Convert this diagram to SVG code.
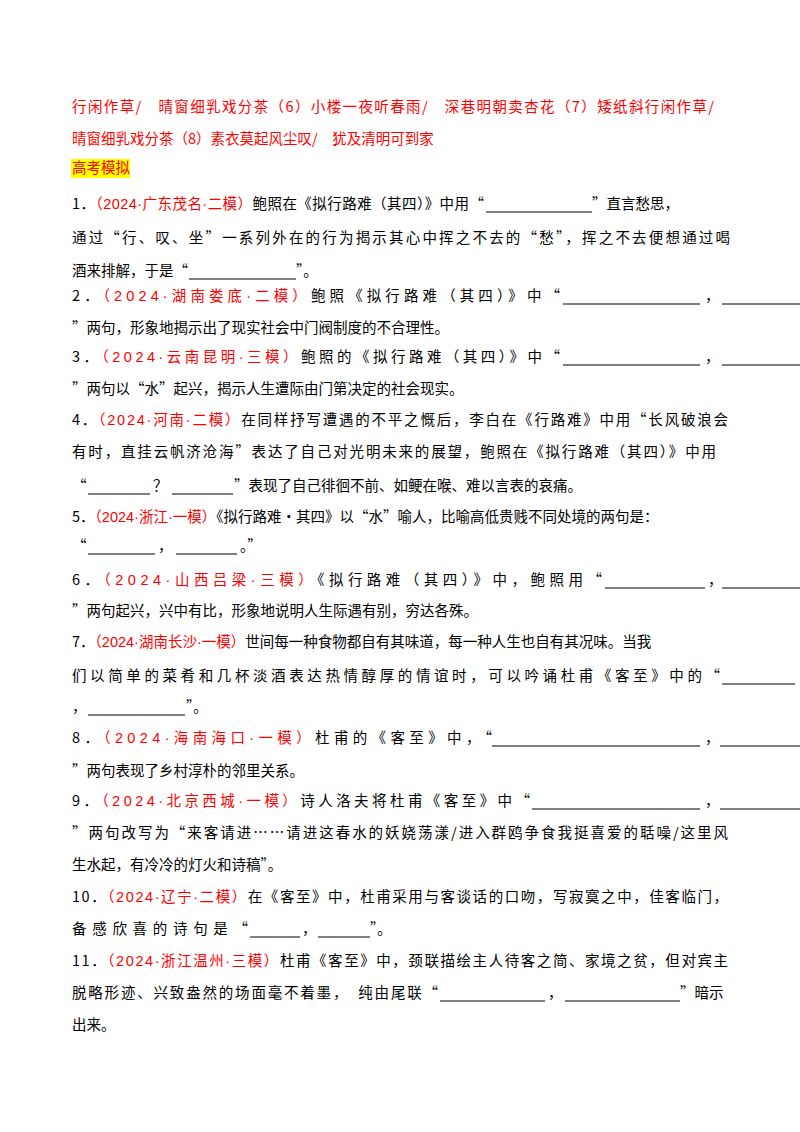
<svg xmlns="http://www.w3.org/2000/svg" width="800" height="1132" viewBox="0 0 800 1132">
<style>
text{font-family:"Noto Sans CJK SC","Liberation Sans",sans-serif;font-size:14.5px;fill:#000}
.r{fill:#ff0000}
tspan.r{font-family:"Liberation Sans","Noto Sans CJK SC",sans-serif}
line{stroke:#000;stroke-width:1}
</style>
<rect width="800" height="1132" fill="#fff"/>
<text x="72" y="112" class="r" textLength="642" lengthAdjust="spacing">行闲作草/　晴窗细乳戏分茶（6）小楼一夜听春雨/　深巷明朝卖杏花（7）矮纸斜行闲作草/</text>
<text x="72" y="144" class="r">晴窗细乳戏分茶（8）素衣莫起风尘叹/　犹及清明可到家</text>
<rect x="71" y="159" width="59" height="19" fill="#ffff00"/>
<text x="72" y="173" class="r">高考模拟</text>
<g id="q1">
<text x="72" y="209" textLength="412" lengthAdjust="spacing">1．<tspan class="r">（2024·广东茂名·二模）</tspan>鲍照在《拟行路难（其四）》中用“</text>
<line x1="486" y1="212" x2="592" y2="212"/>
<text x="592" y="209">”直言愁思，</text>
<text x="72" y="243" textLength="658" lengthAdjust="spacing">通过“行、叹、坐”一系列外在的行为揭示其心中挥之不去的“愁”，挥之不去便想通过喝</text>
<text x="72" y="276">酒来排解，于是“</text>
<line x1="189" y1="279" x2="296" y2="279"/>
<text x="296" y="276">”。</text>
</g>
<g id="q2">
<text x="72" y="301" textLength="488" lengthAdjust="spacing">2．<tspan class="r">（2024·湖南娄底·二模）</tspan>鲍照《拟行路难（其四）》中“</text>
<line x1="563" y1="304" x2="700" y2="304"/><text x="705" y="301">，</text><line x1="722" y1="304" x2="800" y2="304"/>
<text x="72" y="333">”两句，形象地揭示出了现实社会中门阀制度的不合理性。</text>
</g>
<g id="q3">
<text x="72" y="362" textLength="488" lengthAdjust="spacing">3．<tspan class="r">（2024·云南昆明·三模）</tspan>鲍照的《拟行路难（其四）》中“</text>
<line x1="563" y1="365" x2="700" y2="365"/><text x="705" y="362">，</text><line x1="722" y1="365" x2="800" y2="365"/>
<text x="72" y="394">”两句以“水”起兴，揭示人生遭际由门第决定的社会现实。</text>
</g>
<g id="q4">
<text x="72" y="425" textLength="656" lengthAdjust="spacing">4．<tspan class="r">（2024·河南·二模）</tspan>在同样抒写遭遇的不平之慨后，李白在《行路难》中用“长风破浪会</text>
<text x="72" y="457" textLength="644" lengthAdjust="spacing">有时，直挂云帆济沧海”表达了自己对光明未来的展望，鲍照在《拟行路难（其四）》中用</text>
<text x="72" y="491">“</text><line x1="88" y1="494" x2="150" y2="494"/><text x="153" y="491">？</text><line x1="172" y1="494" x2="233" y2="494"/>
<text x="234" y="491">”表现了自己徘徊不前、如鲠在喉、难以言表的哀痛。</text>
</g>
<g id="q5">
<text x="72" y="522">5．<tspan class="r">（2024·浙江·一模）</tspan>《拟行路难·其四》以“水”喻人，比喻高低贵贱不同处境的两句是：</text>
<text x="72" y="551">“</text><line x1="88" y1="554" x2="155" y2="554"/><text x="158" y="551">，</text><line x1="176" y1="554" x2="237" y2="554"/><text x="240" y="551">。”</text>
</g>
<g id="q6">
<text x="72" y="585" textLength="530" lengthAdjust="spacing">6．<tspan class="r">（2024·山西吕梁·三模）</tspan>《拟行路难（其四）》中，鲍照用“</text>
<line x1="605" y1="588" x2="705" y2="588"/><text x="708" y="585">，</text><line x1="722" y1="588" x2="800" y2="588"/>
<text x="72" y="616">”两句起兴，兴中有比，形象地说明人生际遇有别，穷达各殊。</text>
</g>
<g id="q7">
<text x="72" y="647">7．<tspan class="r">（2024·湖南长沙·一模）</tspan>世间每一种食物都自有其味道，每一种人生也自有其况味。当我</text>
<text x="72" y="681" textLength="648" lengthAdjust="spacing">们以简单的菜肴和几杯淡酒表达热情醇厚的情谊时，可以吟诵杜甫《客至》中的“</text>
<line x1="722" y1="684" x2="795" y2="684"/>
<text x="72" y="712">，</text><line x1="88" y1="715" x2="185" y2="715"/><text x="186" y="712">”。</text>
</g>
<g id="q8">
<text x="72" y="743" textLength="420" lengthAdjust="spacing">8．<tspan class="r">（2024·海南海口·一模）</tspan>杜甫的《客至》中，“</text>
<line x1="492" y1="746" x2="700" y2="746"/><text x="705" y="743">，</text><line x1="720" y1="746" x2="800" y2="746"/>
<text x="72" y="776">”两句表现了乡村淳朴的邻里关系。</text>
</g>
<g id="q9">
<text x="72" y="806" textLength="458" lengthAdjust="spacing">9．<tspan class="r">（2024·北京西城·一模）</tspan>诗人洛夫将杜甫《客至》中“</text>
<line x1="532" y1="809" x2="700" y2="809"/><text x="705" y="806">，</text><line x1="720" y1="809" x2="800" y2="809"/>
<text x="72" y="838" textLength="656" lengthAdjust="spacing">”两句改写为“来客请进……请进这春水的妖娆荡漾/进入群鸥争食我挺喜爱的聒噪/这里风</text>
<text x="72" y="870">生水起，有冷冷的灯火和诗稿”。</text>
</g>
<g id="q10">
<text x="72" y="902" textLength="656" lengthAdjust="spacing">10．<tspan class="r">（2024·辽宁·二模）</tspan>在《客至》中，杜甫采用与客谈话的口吻，写寂寞之中，佳客临门，</text>
<text x="72" y="934" textLength="176" lengthAdjust="spacing">备感欣喜的诗句是“</text><line x1="250" y1="937" x2="300" y2="937"/><text x="302" y="934">，</text><line x1="318" y1="937" x2="370" y2="937"/><text x="370" y="934">”。</text>
</g>
<g id="q11">
<text x="72" y="966" textLength="656" lengthAdjust="spacing">11．<tspan class="r">（2024·浙江温州·三模）</tspan>杜甫《客至》中，颈联描绘主人待客之简、家境之贫，但对宾主</text>
<text x="72" y="998" textLength="366" lengthAdjust="spacing">脱略形迹、兴致盎然的场面毫不着墨，　纯由尾联“</text>
<line x1="440" y1="1001" x2="545" y2="1001"/><text x="548" y="998">，</text><line x1="565" y1="1001" x2="680" y2="1001"/><text x="680" y="998">”暗示</text>
<text x="72" y="1030">出来。</text>
</g>
</svg>
